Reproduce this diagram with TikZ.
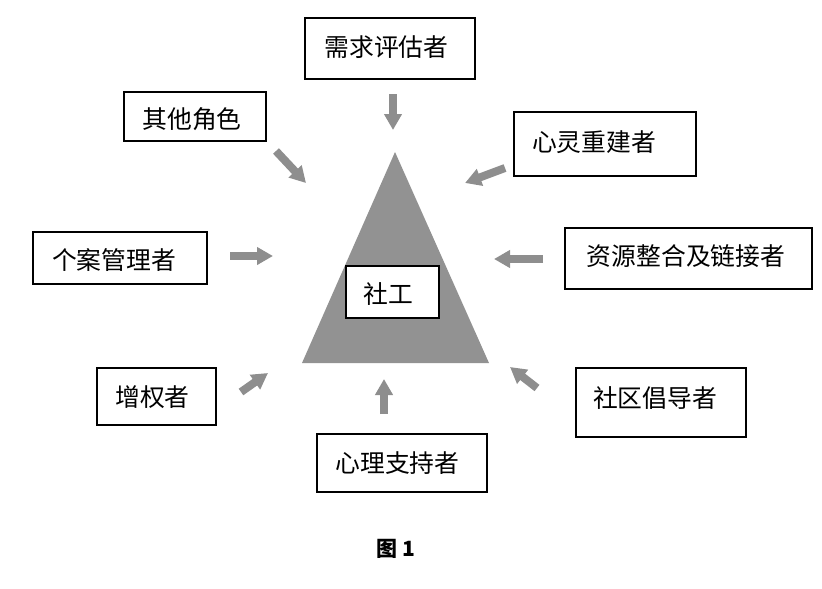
\documentclass[tikz,border=0pt]{standalone}
\usepackage{fontspec}
\newfontfamily\cjk{Noto Sans CJK SC}
\usetikzlibrary{arrows.meta}
\definecolor{arrowgray}{HTML}{8E8E8E}
\definecolor{trigray}{HTML}{929292}
\tikzset{
  rolebox/.style={draw=black, line width=1.2pt, fill=white, inner sep=0pt},
  roletext/.style={font=\cjk\fontsize{24.8}{28}\selectfont, inner sep=0pt},
  fatarrow/.style={draw=arrowgray, line width=8pt, -{Triangle[width=17pt,length=16pt]}},
}
\begin{document}
\begin{tikzpicture}[x=1pt,y=-1pt]
\useasboundingbox (0,0) rectangle (822,589);
% triangle
\coordinate (apex) at (395,152);
\coordinate (bl) at (302,363);
\coordinate (br) at (489,363);
\fill[trigray] (apex) -- (br) -- (bl) -- cycle;
% center box
\node[rolebox, minimum width=93pt, minimum height=52pt] (sw) at (392.5,292) {};
\node[roletext] (swt) at (388.5,294) {社工};
% boxes
\node[rolebox, minimum width=170pt, minimum height=61pt] (b1) at (390,48.5) {};
\node[roletext] (t1) at (386.5,47) {需求评估者};
\node[rolebox, minimum width=142pt, minimum height=49pt] (b2) at (195,116.5) {};
\node[roletext] (t2) at (192,119) {其他角色};
\node[rolebox, minimum width=182pt, minimum height=64pt] (b3) at (605,144) {};
\node[roletext] (t3) at (594,142) {心灵重建者};
\node[rolebox, minimum width=174pt, minimum height=52pt] (b4) at (120,258) {};
\node[roletext] (t4) at (114,260) {个案管理者};
\node[rolebox, minimum width=247pt, minimum height=61pt] (b5) at (688.5,258.5) {};
\node[roletext] (t5) at (686,256) {资源整合及链接者};
\node[rolebox, minimum width=119pt, minimum height=57pt] (b6) at (156.5,396.5) {};
\node[roletext] (t6) at (152.5,397) {增权者};
\node[rolebox, minimum width=170pt, minimum height=58pt] (b7) at (402,463) {};
\node[roletext] (t7) at (397.5,463) {心理支持者};
\node[rolebox, minimum width=170pt, minimum height=69pt] (b8) at (661,402.5) {};
\node[roletext] (t8) at (655,398) {社区倡导者};
% caption
\node[font=\cjk\bfseries\fontsize{21}{24}\selectfont, inner sep=0pt] (cap) at (396,549) {图 1};
% arrows
\coordinate (a1s) at (393,94);  \coordinate (a1e) at (393,130);
\coordinate (a2s) at (276,151); \coordinate (a2e) at (306,183);
\coordinate (a3s) at (505,168); \coordinate (a3e) at (465,183);
\coordinate (a4s) at (230,256); \coordinate (a4e) at (273,256);
\coordinate (a5s) at (543,259); \coordinate (a5e) at (494,259);
\coordinate (a6s) at (241,392); \coordinate (a6e) at (268,373);
\coordinate (a7s) at (384,414); \coordinate (a7e) at (384,379);
\coordinate (a8s) at (537,388); \coordinate (a8e) at (510,367);
\foreach \i in {1,...,8}{\draw[fatarrow] (a\i s) -- (a\i e);}
\end{tikzpicture}
\end{document}
